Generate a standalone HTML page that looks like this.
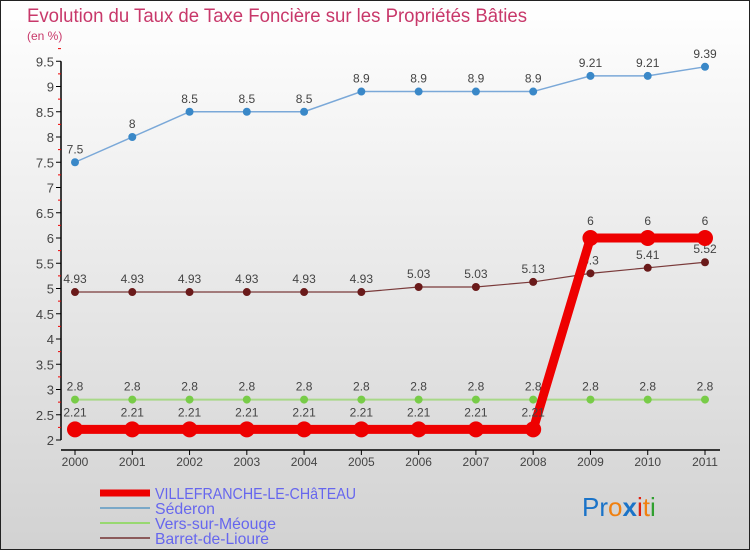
<!DOCTYPE html>
<html><head><meta charset="utf-8"><style>
body{margin:0}
svg text{font-family:"Liberation Sans",sans-serif}
</style></head><body>
<svg id="c" width="750" height="550" xmlns="http://www.w3.org/2000/svg">
<defs><linearGradient id="bg" x1="0" y1="0" x2="0" y2="1"><stop offset="0" stop-color="#ffffff"/><stop offset="1" stop-color="#d2d2d2"/></linearGradient></defs>
<rect x="0.5" y="0.5" width="749" height="549" fill="url(#bg)" stroke="#222"/>
<text x="27" y="22" font-size="19" textLength="500" lengthAdjust="spacingAndGlyphs" fill="#c8386a">Evolution du Taux de Taxe Foncière sur les Propriétés Bâties</text>
<text x="27" y="40" font-size="12" fill="#c8386a">(en %)</text>
<g id="axes"></g><g id="series"></g>
<g>
<line x1="100" y1="493" x2="150" y2="493" stroke="#ee0000" stroke-width="7"/>
<text x="155" y="499" font-size="16" textLength="201" lengthAdjust="spacingAndGlyphs" fill="#6666ee">VILLEFRANCHE-LE-CHâTEAU</text>
<line x1="100" y1="508" x2="150" y2="508" stroke="#7aa8c8" stroke-width="2"/>
<text x="155" y="514" font-size="16" textLength="60" lengthAdjust="spacingAndGlyphs" fill="#6666ee">Séderon</text>
<line x1="100" y1="523" x2="150" y2="523" stroke="#98d870" stroke-width="2"/>
<text x="155" y="529" font-size="16" textLength="121" lengthAdjust="spacingAndGlyphs" fill="#6666ee">Vers-sur-Méouge</text>
<line x1="100" y1="538" x2="150" y2="538" stroke="#8b5a5a" stroke-width="2"/>
<text x="155" y="544" font-size="16" textLength="114" lengthAdjust="spacingAndGlyphs" fill="#6666ee">Barret-de-Lioure</text>
</g>
<text x="582" y="516" font-size="26"><tspan fill="#1a73c8">Pr</tspan><tspan fill="#f08010">o</tspan><tspan fill="#1a73c8" font-weight="bold">x</tspan><tspan fill="#e02010">i</tspan><tspan fill="#f08010">t</tspan><tspan fill="#30a030">i</tspan></text>
</svg>
<script>
const years=[2000,2001,2002,2003,2004,2005,2006,2007,2008,2009,2010,2011];
const yTicks=[2,2.5,3,3.5,4,4.5,5,5.5,6,6.5,7,7.5,8,8.5,9,9.5];
const villefranche=[2.21,2.21,2.21,2.21,2.21,2.21,2.21,2.21,2.21,6,6,6];
const sederon=[7.5,8,8.5,8.5,8.5,8.9,8.9,8.9,8.9,9.21,9.21,9.39];
const vers=[2.8,2.8,2.8,2.8,2.8,2.8,2.8,2.8,2.8,2.8,2.8,2.8];
const barret=[4.93,4.93,4.93,4.93,4.93,4.93,5.03,5.03,5.13,5.3,5.41,5.52];
const NS="http://www.w3.org/2000/svg";
const xs=i=>75+i*(630/11);
const ys=v=>440-(v-2)*50.5;
function mk(t,a,p){const e=document.createElementNS(NS,t);for(const k in a)e.setAttribute(k,a[k]);p.appendChild(e);return e;}
const ax=document.getElementById('axes');
const yl=mk('line',{x1:61,y1:ys(9.5),x2:61,y2:440,stroke:'#000','stroke-width':1.5},ax);


const xl=mk('line',{x1:61,y1:450,x2:720,y2:450,stroke:'#000','stroke-width':1.5},ax);


yTicks.forEach(v=>{
 const tk=mk('line',{x1:56,y1:ys(v),x2:61,y2:ys(v),stroke:'#000'},ax);
 
 
 const m=mk('line',{x1:58,y1:ys(v+0.25),x2:61,y2:ys(v+0.25),stroke:'#e00'},ax);
 
 
 const t=mk('text',{x:54,y:ys(v)+5,'font-size':13,'text-anchor':'end',fill:'#444'},ax);
 t.textContent=String(v);
 
 
});
years.forEach((y,i)=>{
 const tk=mk('line',{x1:xs(i),y1:450,x2:xs(i),y2:455,stroke:'#000'},ax);
 
 
 const t=mk('text',{x:xs(i),y:466,'font-size':12,'text-anchor':'middle',fill:'#444'},ax);
 t.textContent=String(y);
 
 
});
const sg=document.getElementById('series');
function draw(data,name,col,w,r,dotCol,labelOff){
 const g=mk('g',{},sg);
 
 
 const pl=mk('polyline',{points:data.map((v,i)=>xs(i)+','+ys(v)).join(' '),fill:'none',stroke:col,'stroke-width':w},g);
 
 
 data.forEach((v,i)=>{
  const c=mk('circle',{cx:xs(i),cy:ys(v),r:r,fill:dotCol},g);
  
  
  const t=mk('text',{x:xs(i),y:ys(v)-labelOff,'font-size':12,'text-anchor':'middle',fill:'#444'},g);
  t.textContent=String(v);
  
  
 });
}
draw(sederon,'sederon','#7aa8d8',1.5,4,'#3a88c8',9);
draw(vers,'vers','#a8d888',2,4,'#78cc48',9);
draw(barret,'barret','#7a3a3a',1.2,4,'#6a1a1a',9);
draw(villefranche,'villefranche','#ee0000',9,8,'#ee0000',13);
</script>
</body></html>
